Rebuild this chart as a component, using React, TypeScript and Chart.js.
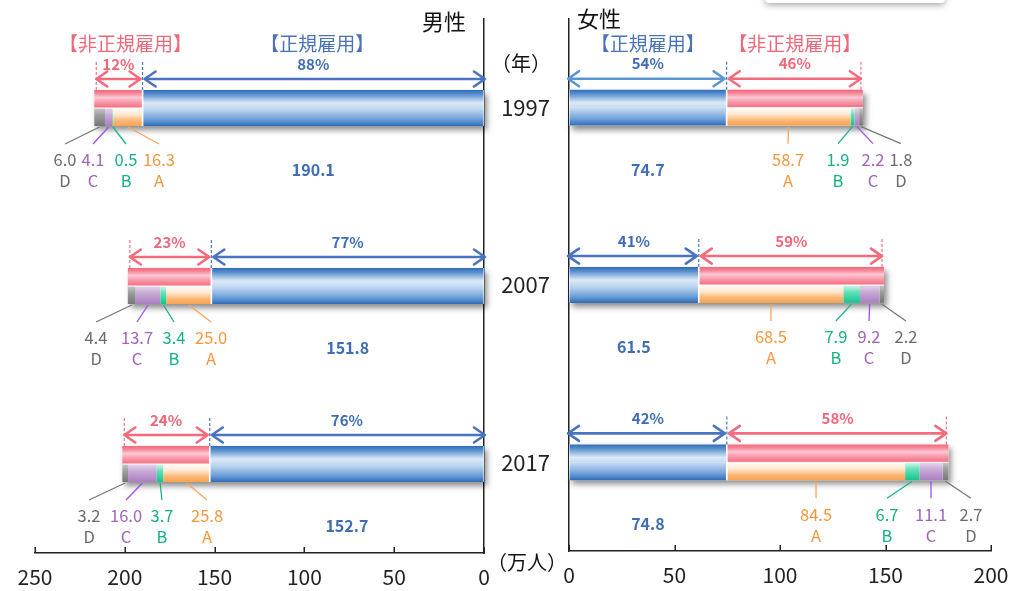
import React, { useEffect, useRef } from "react";
import { Chart, registerables } from "chart.js";

Chart.register(...registerables);

const FONT = "'Noto Sans CJK JP', 'Noto Sans', sans-serif";

// ---------- data ----------
const years = ["1997", "2007", "2017"];
const segmentLetters = ["A", "B", "C", "D"];

const maleRegular = [190.1, 151.8, 152.7];
const maleA = [16.3, 25.0, 25.8];
const maleB = [0.5, 3.4, 3.7];
const maleC = [4.1, 13.7, 16.0];
const maleD = [6.0, 4.4, 3.2];

const femaleRegular = [74.7, 61.5, 74.8];
const femaleA = [58.7, 68.5, 84.5];
const femaleB = [1.9, 7.9, 6.7];
const femaleC = [2.2, 9.2, 11.1];
const femaleD = [1.8, 2.2, 2.7];

// where each A/B/C/D callout sits, in 万人 along the value axis
const maleLabelAt = [
  [181.0, 199.3, 217.7, 233.3],
  [152.0, 172.6, 193.2, 216.0],
  [154.2, 179.3, 199.3, 219.9],
];
const femaleLabelAt = [
  [103.8, 127.5, 144.1, 157.3],
  [95.7, 126.5, 142.2, 159.7],
  [117.1, 150.7, 171.6, 190.5],
];

const maleTicks = [0, 50, 100, 150, 200, 250];
const femaleTicks = [0, 50, 100, 150, 200];

// ---------- styles ----------
const CAT_PCT = 36 / 178;
const BLUE_STOPS: [number, string][] = [
  [0, "#2f6cb5"], [0.12, "#5a90cf"], [0.36, "#dce9f6"], [0.55, "#bcd4ef"], [0.82, "#6c9ed8"], [1, "#2f6cb5"],
];
const PINK_STOPS: [number, string][] = [
  [0, "#f3697a"], [0.18, "#f68496"], [0.42, "#fcc9d5"], [0.62, "#f8a2b2"], [1, "#f46a7b"],
];
const SEG_STOPS: [number, string][][] = [
  [[0, "#fffbf6"], [0.35, "#ffead4"], [0.72, "#fbb673"], [1, "#f9a24f"]],
  [[0, "#d6f8ec"], [0.4, "#62e0b8"], [1, "#14c48d"]],
  [[0, "#e6d6ee"], [0.4, "#c8aad6"], [1, "#a97ec0"]],
  [[0, "#c8c8c8"], [0.4, "#9c9c9c"], [1, "#767676"]],
];
const SEG_TEXT = ["#f7963c", "#15b087", "#a463b8", "#6b6b6b"];
const SEG_LINE = ["#f9a35a", "#17b48a", "#9a4cf5", "#777777"];
const BLUE_TEXT = "#3f6db5";
const PINK_TEXT = "#f0677a";

type SideData = {
  regular: number[];
  segs: number[][];
  labelAt: number[][];
  ticks: number[];
  max: number;
  isLeft: boolean;
};

const male: SideData = {
  regular: maleRegular,
  segs: [maleA, maleB, maleC, maleD],
  labelAt: maleLabelAt,
  ticks: maleTicks,
  max: 250,
  isLeft: true,
};
const female: SideData = {
  regular: femaleRegular,
  segs: [femaleA, femaleB, femaleC, femaleD],
  labelAt: femaleLabelAt,
  ticks: femaleTicks,
  max: 200,
  isLeft: false,
};

function barHalf(chart: any) {
  const ys = chart.scales.y;
  return ((ys.bottom - ys.top) / years.length) * CAT_PCT / 2;
}

function makeGrad(stops: [number, string][], part: "full" | "top" | "bottom") {
  return (ctx: any) => {
    const chart = ctx.chart;
    const ys = chart.scales && chart.scales.y;
    if (!chart.chartArea || !ys || ctx.dataIndex === undefined) return stops[stops.length - 1][1];
    const c = ys.getPixelForValue(ctx.dataIndex);
    const h = barHalf(chart);
    const y0 = part === "bottom" ? c : c - h;
    const y1 = part === "top" ? c : c + h;
    const g = chart.ctx.createLinearGradient(0, y0, 0, y1);
    stops.forEach(([o, col]) => g.addColorStop(o, col));
    return g;
  };
}

function drawArrow(ctx: CanvasRenderingContext2D, xa: number, xb: number, y: number, color: string) {
  const x1 = Math.min(xa, xb);
  const x2 = Math.max(xa, xb);
  const hl = 11;
  const hw = 7.5;
  ctx.save();
  ctx.strokeStyle = color;
  ctx.lineWidth = 2.6;
  ctx.lineCap = "round";
  ctx.lineJoin = "round";
  ctx.beginPath();
  ctx.moveTo(x1, y);
  ctx.lineTo(x2, y);
  ctx.moveTo(x1 + hl, y - hw);
  ctx.lineTo(x1, y);
  ctx.lineTo(x1 + hl, y + hw);
  ctx.moveTo(x2 - hl, y - hw);
  ctx.lineTo(x2, y);
  ctx.lineTo(x2 - hl, y + hw);
  ctx.stroke();
  ctx.restore();
}

function text(ctx: CanvasRenderingContext2D, s: string, x: number, y: number, color: string, size: number, bold = false) {
  ctx.save();
  ctx.fillStyle = color;
  ctx.font = `${bold ? "bold " : ""}${size}px ${FONT}`;
  ctx.textAlign = "center";
  ctx.textBaseline = "middle";
  ctx.fillText(s, x, y);
  ctx.restore();
}

function line(ctx: CanvasRenderingContext2D, x1: number, y1: number, x2: number, y2: number) {
  ctx.beginPath();
  ctx.moveTo(x1, y1);
  ctx.lineTo(x2, y2);
  ctx.stroke();
}

function zeroPadding(s: any) {
  s.paddingTop = 0;
  s.paddingBottom = 0;
  s.paddingLeft = 0;
  s.paddingRight = 0;
}

function makeConfig(side: SideData): any {
  const nonReg = years.map((_, i) => side.segs.reduce((a, s) => a + s[i], 0));
  const totals = years.map((_, i) => side.regular[i] + nonReg[i]);

  const common = { categoryPercentage: CAT_PCT, barPercentage: 1, borderWidth: 0 };
  const datasets: any[] = [
    { ...common, label: "正規雇用", data: side.regular, stack: "top", backgroundColor: makeGrad(BLUE_STOPS, "full") },
    { ...common, label: "非正規雇用", data: nonReg, stack: "top", backgroundColor: makeGrad(PINK_STOPS, "top") },
    { ...common, label: "正規雇用 ", data: side.regular, stack: "bottom", backgroundColor: makeGrad(BLUE_STOPS, "full") },
    ...side.segs.map((s, k) => ({
      ...common,
      label: segmentLetters[k],
      data: s,
      stack: "bottom",
      backgroundColor: makeGrad(SEG_STOPS[k], "bottom"),
    })),
  ];

  const shadowPlugin = {
    id: "barShadow",
    beforeDatasetsDraw(chart: any) {
      const ctx = chart.ctx;
      const xs = chart.scales.x;
      const ys = chart.scales.y;
      const h = barHalf(chart);
      years.forEach((_, i) => {
        const c = ys.getPixelForValue(i);
        const a = xs.getPixelForValue(0);
        const b = xs.getPixelForValue(totals[i]);
        const l = Math.min(a, b);
        const r = Math.max(a, b);
        ctx.save();
        ctx.shadowColor = "rgba(0,0,0,0.45)";
        ctx.shadowBlur = 6;
        ctx.shadowOffsetX = 3;
        ctx.shadowOffsetY = 4;
        ctx.fillStyle = "#ffffff";
        ctx.fillRect(l, c - h, r - l, 2 * h);
        ctx.restore();
      });
    },
  };

  const annotPlugin = {
    id: "annot",
    afterDatasetsDraw(chart: any) {
      const ctx: CanvasRenderingContext2D = chart.ctx;
      const xs = chart.scales.x;
      const ys = chart.scales.y;
      const h = barHalf(chart);
      years.forEach((_, i) => {
        const c = ys.getPixelForValue(i);
        const reg = side.regular[i];
        const tot = totals[i];
        const p0 = xs.getPixelForValue(0);
        const p1 = xs.getPixelForValue(reg);
        const p2 = xs.getPixelForValue(tot);
        const dirNon = p2 > p1 ? 1 : -1;

        // white separators
        ctx.save();
        ctx.strokeStyle = "#ffffff";
        ctx.lineWidth = 1.6;
        line(ctx, p1, c - h, p1, c + h);
        ctx.lineWidth = 1;
        line(ctx, p1, c, p2, c);
        ctx.restore();

        // dashed guides
        ctx.save();
        ctx.setLineDash([3, 2]);
        ctx.lineWidth = 1.2;
        ctx.strokeStyle = "#4a78c4";
        line(ctx, p1, c - h - 28, p1, c - h);
        ctx.strokeStyle = "#f27384";
        line(ctx, p2 - dirNon * 2, c - h - 28, p2 - dirNon * 2, c - h);
        ctx.restore();

        // arrows
        const ay = c - h - 11;
        const blueArrow = !side.isLeft && i === 0 ? "#5b95d3" : "#4a74c0";
        drawArrow(ctx, p0 - dirNon * 1, p1 - dirNon * 2, ay, blueArrow);
        drawArrow(ctx, p1 + dirNon * 2, p2 - dirNon * 2, ay, "#f26c7d");

        // percentages
        const pr = Math.round((reg / tot) * 100);
        text(ctx, `${pr}%`, (p0 + p1) / 2, c - h - 26, BLUE_TEXT, 15, true);
        text(ctx, `${100 - pr}%`, (p1 + p2) / 2, c - h - 26, PINK_TEXT, 15, true);

        // section headers for the first row
        if (i === 0) {
          text(ctx, "【正規雇用】", (p0 + p1) / 2 + (side.isLeft ? 4 : 0), c - h - 46, "#4a72b8", 19);
          text(ctx, "【非正規雇用】", (p1 + p2) / 2 + (side.isLeft ? 7 : 0), c - h - 46, PINK_TEXT, 19);
        }

        // regular value
        text(ctx, reg.toFixed(1), (p0 + p1) / 2, c + 62, BLUE_TEXT, 16, true);

        // segment callouts
        let cum = reg;
        side.segs.forEach((s, k) => {
          const v = s[i];
          const mid = xs.getPixelForValue(cum + v / 2);
          cum += v;
          const lx = xs.getPixelForValue(side.labelAt[i][k]);
          ctx.save();
          ctx.strokeStyle = SEG_LINE[k];
          ctx.lineWidth = 1.3;
          line(ctx, mid, c + h + 1, lx, c + 36);
          ctx.restore();
          text(ctx, v.toFixed(1), lx, c + 52, SEG_TEXT[k], 16.5);
          text(ctx, segmentLetters[k], lx, c + 73, SEG_TEXT[k], 16.5);
        });
      });
    },
    afterDraw(chart: any) {
      const ctx: CanvasRenderingContext2D = chart.ctx;
      const xs = chart.scales.x;
      const bottom = chart.chartArea.bottom;
      ctx.save();
      ctx.strokeStyle = "#222222";
      ctx.lineWidth = 1.5;
      xs.ticks.forEach((t: any) => {
        const px = Math.round(xs.getPixelForValue(t.value)) + 0.25;
        line(ctx, px, bottom, px, bottom - 6);
      });
      ctx.restore();
    },
  };

  const isLeft = side.isLeft;
  return {
    type: "bar",
    data: { labels: years, datasets },
    plugins: [shadowPlugin, annotPlugin],
    options: {
      indexAxis: "y",
      animation: false,
      responsive: false,
      events: [],
      layout: {
        padding: isLeft
          ? { left: 35, top: 19, right: 0, bottom: 0 }
          : { left: 0, top: 19, right: 18, bottom: 0 },
      },
      plugins: { legend: { display: false }, tooltip: { enabled: false } },
      scales: {
        x: {
          type: "linear",
          min: 0,
          max: side.max,
          reverse: isLeft,
          stacked: true,
          position: "bottom",
          afterBuildTicks: (s: any) => {
            s.ticks = side.ticks.map((v) => ({ value: v }));
          },
          afterFit: (s: any) => {
            s.height = isLeft ? 38 : 40;
            zeroPadding(s);
          },
          grid: { display: true, drawOnChartArea: false, drawTicks: false },
          border: { display: true, color: "#222222", width: 1.5 },
          ticks: {
            color: "#222222",
            padding: 11,
            font: { family: FONT, size: 21 },
            maxRotation: 0,
            autoSkip: false,
          },
        },
        y: {
          type: "category",
          stacked: true,
          offset: true,
          position: isLeft ? "right" : "left",
          afterFit: (s: any) => {
            s.width = isLeft ? 16 : 69;
            zeroPadding(s);
          },
          grid: { display: true, drawOnChartArea: false, drawTicks: false },
          border: { display: true, color: "#222222", width: 1.5 },
          ticks: {
            display: !isLeft,
            color: "#222222",
            padding: 19,
            font: { family: FONT, size: 22 },
          },
        },
      },
    },
  };
}

function Panel({ side, left, width }: { side: SideData; left: number; width: number }) {
  const ref = useRef<HTMLCanvasElement>(null);
  useEffect(() => {
    const chart = new Chart(ref.current as HTMLCanvasElement, makeConfig(side));
    return () => chart.destroy();
  }, [side]);
  return (
    <canvas
      ref={ref}
      width={width}
      height={591}
      style={{ position: "absolute", left, top: 0, width, height: 591 }}
    />
  );
}

const labelStyle = (left: number, top: number, size: number): React.CSSProperties => ({
  position: "absolute",
  left,
  top,
  fontSize: size,
  lineHeight: 1,
  fontFamily: FONT,
  color: "#111",
  whiteSpace: "nowrap",
  zIndex: 2,
});

export default function App() {
  return (
    <div
      style={{
        position: "absolute",
        left: 0,
        top: 0,
        width: 1009,
        height: 591,
        background: "#ffffff",
        overflow: "hidden",
      }}
    >
      <div
        style={{
          position: "absolute",
          left: 765,
          top: -50,
          width: 180,
          height: 53,
          background: "#fff",
          borderRadius: 4,
          boxShadow: "0 2px 6px rgba(0,0,0,0.35)",
        }}
      />
      <Panel side={male} left={0} width={500} />
      <Panel side={female} left={500} width={509} />
      <div style={labelStyle(422, 9, 22)}>男性</div>
      <div style={labelStyle(577, 6, 22)}>女性</div>
      <div style={labelStyle(491, 53, 20)}>（年）</div>
      <div style={labelStyle(487, 552, 20)}>（万人）</div>
    </div>
  );
}
